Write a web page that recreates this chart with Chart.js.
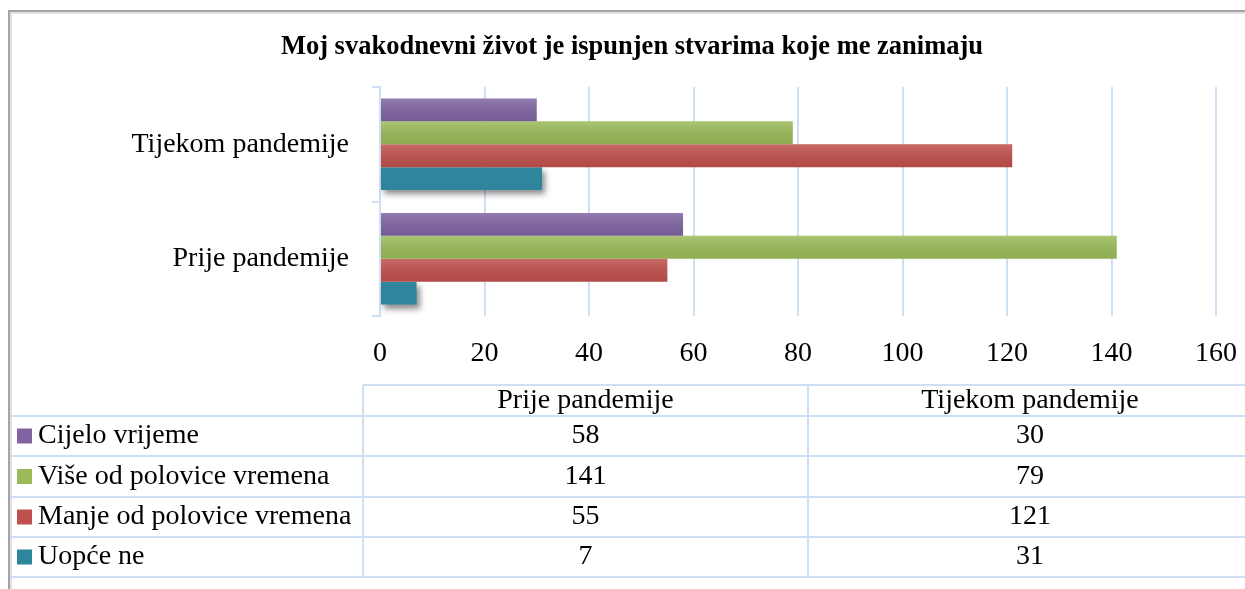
<!DOCTYPE html>
<html lang="hr">
<head>
<meta charset="UTF-8">
<title>Moj svakodnevni život je ispunjen stvarima koje me zanimaju</title>
<script src="https://cdn.jsdelivr.net/npm/chart.js"></script>
<style>
  html, body { margin: 0; padding: 0; background: #fff; }
  canvas { display: block; }
</style>
</head>
<body>
<canvas id="chart" width="1245" height="589"></canvas>
<script>
  const chartTitle = 'Moj svakodnevni život je ispunjen stvarima koje me zanimaju';
  const categories = ['Prije pandemije', 'Tijekom pandemije'];
  const seriesNames = ['Cijelo vrijeme', 'Više od polovice vremena', 'Manje od polovice vremena', 'Uopće ne'];
  const cijeloVrijeme = [58, 30];
  const viseOdPolovice = [141, 79];
  const manjeOdPolovice = [55, 121];
  const uopceNe = [7, 31];
  const xMin = 0, xMax = 160, xStep = 20;

  const seriesValues = [cijeloVrijeme, viseOdPolovice, manjeOdPolovice, uopceNe];
  const seriesColors = ['#8064a2', '#9bbb59', '#c0504d', '#2e859c'];
  const gridColor = '#cfdff3';
  const textFont = { family: 'Liberation Serif', size: 28 };

  // Excel draws the first category at the bottom, Chart.js at the top
  const chartLabels = categories.slice().reverse();

  // light top / dark bottom sheen on bars, drop shadow on the last series
  const barShade = {
    id: 'barShade',
    beforeDatasetDraw(chart, args) {
      if (args.index === seriesNames.length - 1) {
        const c = chart.ctx;
        c.save();
        c.shadowColor = 'rgba(0,0,0,0.45)';
        c.shadowBlur = 6;
        c.shadowOffsetX = 3;
        c.shadowOffsetY = 4;
      }
    },
    afterDatasetDraw(chart, args) {
      const c = chart.ctx;
      if (args.index === seriesNames.length - 1) { c.restore(); return; }
      args.meta.data.forEach(bar => {
        const p = bar.getProps(['x', 'y', 'base', 'height'], true);
        const top = p.y - p.height / 2;
        const g = c.createLinearGradient(0, top, 0, top + p.height);
        g.addColorStop(0, 'rgba(255,255,255,0.16)');
        g.addColorStop(1, 'rgba(0,0,0,0.07)');
        c.fillStyle = g;
        c.fillRect(p.base, top, p.x - p.base, p.height);
      });
    }
  };

  // frame, title and the data table under the axis
  const frameAndTable = {
    id: 'frameAndTable',
    afterDraw(chart) {
      const c = chart.ctx;
      c.save();

      // outer chart frame
      c.strokeStyle = '#e2e2e2';
      c.lineWidth = 2;
      c.beginPath();
      c.moveTo(11, 589); c.lineTo(11, 13); c.lineTo(1245, 13);
      c.stroke();
      c.strokeStyle = '#a4a4a4';
      c.beginPath();
      c.moveTo(9, 589); c.lineTo(9, 11); c.lineTo(1245, 11);
      c.stroke();

      c.fillStyle = '#000';
      c.font = 'bold 26.5px "Liberation Serif"';
      c.textAlign = 'center';
      c.textBaseline = 'middle';
      c.fillText(chartTitle, 632, 47);

      const rows = [416, 456, 497, 537, 577];
      const colX = [363, 808, 1252];
      c.strokeStyle = gridColor;
      c.lineWidth = 2;
      c.beginPath();
      c.moveTo(colX[0], 385); c.lineTo(1245, 385);
      rows.forEach(y => { c.moveTo(10, y); c.lineTo(1245, y); });
      c.moveTo(colX[0], 385); c.lineTo(colX[0], 577);
      c.moveTo(colX[1], 385); c.lineTo(colX[1], 577);
      c.stroke();

      c.font = '28px "Liberation Serif"';
      c.fillStyle = '#000';
      categories.forEach((cat, j) => {
        c.fillText(cat, (colX[j] + colX[j + 1]) / 2, 401);
      });
      seriesNames.forEach((name, i) => {
        const cy = (rows[i] + rows[i + 1]) / 2;
        c.fillStyle = seriesColors[i];
        c.fillRect(17, cy - 7.5, 15, 15);
        c.fillStyle = '#000';
        c.textAlign = 'left';
        c.fillText(name, 38, cy);
        c.textAlign = 'center';
        seriesValues[i].forEach((v, j) => {
          c.fillText(String(v), (colX[j] + colX[j + 1]) / 2, cy);
        });
      });
      c.restore();
    }
  };

  new Chart(document.getElementById('chart'), {
    type: 'bar',
    data: {
      labels: chartLabels,
      datasets: seriesNames.map((name, i) => ({
        label: name,
        data: seriesValues[i].slice().reverse(),
        backgroundColor: seriesColors[i],
        borderWidth: 0,
        categoryPercentage: 0.8,
        barPercentage: 1.0
      }))
    },
    options: {
      indexAxis: 'y',
      responsive: false,
      animation: false,
      layout: { padding: { top: 87, right: 29, bottom: 0, left: 0 } },
      plugins: {
        legend: { display: false },
        title: { display: false },
        tooltip: { enabled: false }
      },
      scales: {
        x: {
          min: xMin,
          max: xMax,
          ticks: { stepSize: xStep, color: '#000', font: textFont, padding: 21 },
          grid: { color: gridColor, lineWidth: 2, drawTicks: false },
          border: { display: false },
          afterFit(s) { s.height = 273; s.paddingLeft = 0; s.paddingRight = 0; }
        },
        y: {
          ticks: { color: '#000', font: textFont, padding: 23 },
          grid: { drawOnChartArea: false, color: gridColor, lineWidth: 2, tickLength: 8 },
          border: { color: gridColor, width: 2 },
          afterFit(s) { s.width = 380; s.paddingTop = 0; s.paddingBottom = 0; }
        }
      }
    },
    plugins: [barShade, frameAndTable]
  });
</script>
</body>
</html>
